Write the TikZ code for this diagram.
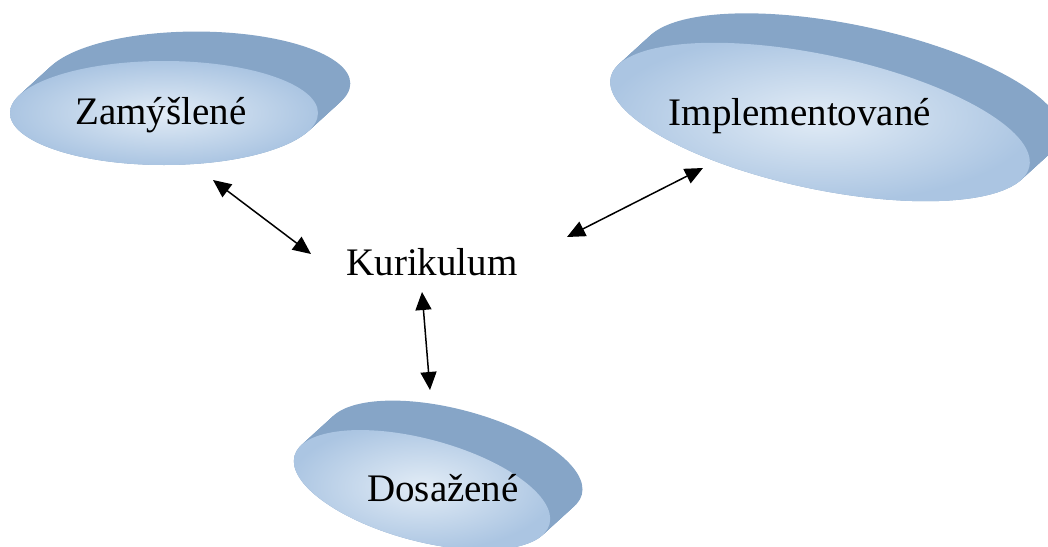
\documentclass[tikz,border=0pt]{standalone}
\usepackage{fontspec}
\setmainfont{Liberation Serif}
\usepackage{tikz}
\usetikzlibrary{arrows.meta}
\definecolor{SideBlue}{HTML}{86A5C7}
\definecolor{FaceLight}{HTML}{E2ECF6}
\definecolor{FaceEdge}{HTML}{ABC5E2}

\tikzset{
  disktext/.style={font=\fontsize{39}{47}\selectfont, anchor=base, inner sep=0pt},
  link/.style={line width=1.5pt,
    {Triangle[length=18pt,width=16pt]}-{Triangle[length=18pt,width=16pt]}},
}

\begin{document}
\begin{tikzpicture}[x=1pt, y=-1pt]
    \useasboundingbox (0,0) rectangle (1048,546);
    \clip (0,0) rectangle (1048,546);
    % disks: centre, radii, tilt
    \foreach \cx/\cy/\rx/\ry/\rot in {164/113/154/52/0, 820/122/214/67/-12, 422/490/132/51/-15} {
      \foreach \s in {0,0.05,...,1}
        \fill[SideBlue] (\cx+34*\s, \cy-31*\s) ellipse [x radius=\rx pt, y radius=\ry pt, rotate=\rot];
      \shade[inner color=FaceLight, outer color=FaceEdge]
        (\cx,\cy) ellipse [x radius=\rx pt, y radius=\ry pt, rotate=\rot];
    }
    \node[disktext] (kur) at (432,275) {Kurikulum};
    \node[disktext] (zam) at (161,124) {Zamýšlené};
    \node[disktext] (imp) at (800,125) {Implementované};
    \node[disktext] (dos) at (443,501) {Dosažené};
    \coordinate (zamEnd) at (213,180);
    \coordinate (kurZam) at (311,254);
    \coordinate (impEnd) at (703,168);
    \coordinate (kurImp) at (567,237);
    \coordinate (kurDos) at (422,292);
    \coordinate (dosEnd) at (430,390);
    \draw[link] (zamEnd) -- (kurZam);
    \draw[link] (impEnd) -- (kurImp);
    \draw[link] (kurDos) -- (dosEnd);
  \end{tikzpicture}
\end{document}
